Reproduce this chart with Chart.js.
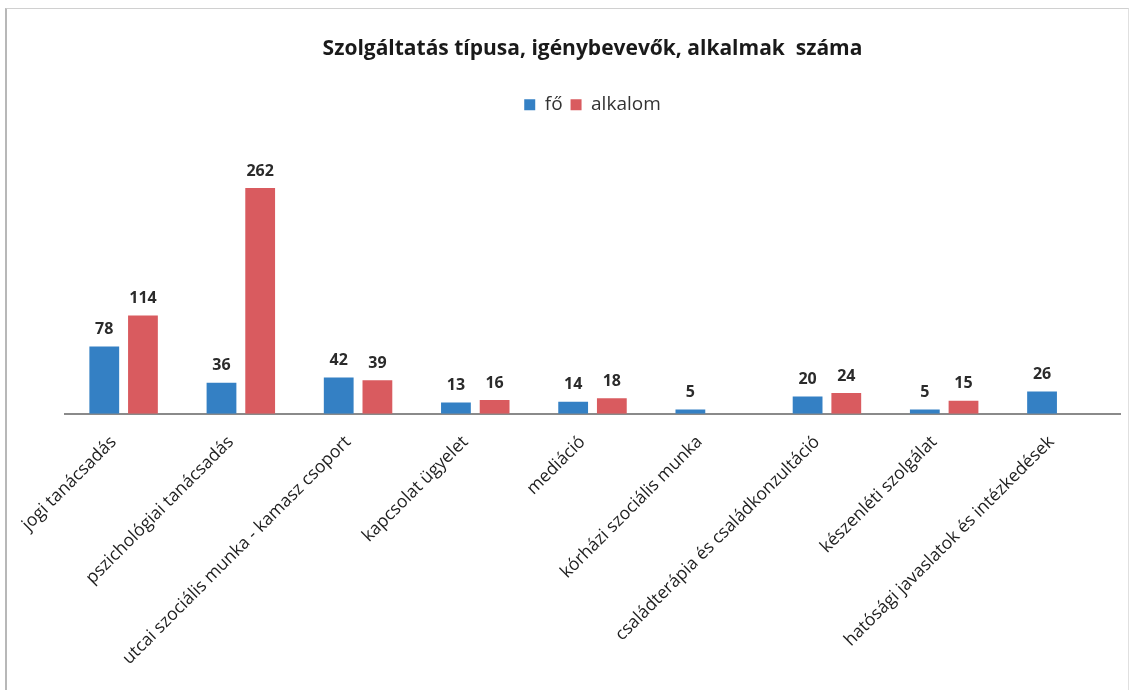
<!DOCTYPE html>
<html>
<head>
<meta charset="utf-8">
<script src="https://cdn.jsdelivr.net/npm/chart.js@4.4.1/dist/chart.umd.min.js"></script>
<style>
  html, body { margin: 0; padding: 0; background: #fff; }
  #wrap { position: relative; width: 1136px; height: 690px; }
  #frame { position: absolute; left: 5px; top: 8px; width: 1124px; height: 700px; border-left: 2px solid #b8b8b8; border-top: 1px solid #d0d0d0; border-right: 1px solid #e0e0e0; box-sizing: border-box; }
  canvas { position: absolute; left: 0; top: 0; }
</style>
</head>
<body>
<div id="wrap">
  <div id="frame"></div>
  <canvas id="c" width="1136" height="690"></canvas>
</div>
<script>
const categories = [
  "jogi tanácsadás",
  "pszichológiai tanácsadás",
  "utcai szociális munka - kamasz csoport",
  "kapcsolat ügyelet",
  "mediáció",
  "kórházi szociális munka",
  "családterápia és családkonzultáció",
  "készenléti szolgálat",
  "hatósági javaslatok és intézkedések"
];
const foValues      = [78, 36, 42, 13, 14, 5, 20, 5, 26];
const alkalomValues = [114, 262, 39, 16, 18, null, 24, 15, null];
const seriesNames = ["fő", "alkalom"];
const chartTitle = "Szolgáltatás típusa, igénybevevők, alkalmak  száma";

const valueLabels = {
  id: 'valueLabels',
  afterDatasetsDraw(chart) {
    const ctx = chart.ctx;
    ctx.save();
    ctx.font = 'bold 16px "Open Sans", sans-serif';
    ctx.fillStyle = '#2b2b2b';
    ctx.textAlign = 'center';
    ctx.textBaseline = 'bottom';
    chart.data.datasets.forEach((ds, i) => {
      const meta = chart.getDatasetMeta(i);
      meta.data.forEach((bar, j) => {
        const v = ds.data[j];
        if (v === null || v === undefined) return;
        ctx.fillText(String(v), bar.x, bar.y - 9);
      });
    });
    ctx.restore();
  }
};

const legendGap = {
  id: 'legendGap',
  beforeInit(chart) {
    const origFit = chart.legend.fit;
    chart.legend.fit = function () {
      origFit.call(this);
      this.height += 31;
    };
  }
};

new Chart(document.getElementById('c'), {
  type: 'bar',
  data: {
    labels: categories,
    datasets: [
      { label: seriesNames[0], data: foValues, backgroundColor: '#3480c4', categoryPercentage: 0.66, barPercentage: 0.77 },
      { label: seriesNames[1], data: alkalomValues, backgroundColor: '#d95b5f', categoryPercentage: 0.66, barPercentage: 0.77 }
    ]
  },
  options: {
    responsive: false,
    animation: false,
    layout: { padding: { left: 65, right: 16, top: 22, bottom: 3 } },
    plugins: {
      title: {
        display: true,
        text: chartTitle,
        color: '#1a1a1a',
        font: { family: '"Open Sans", sans-serif', size: 21, weight: 'bold' },
        padding: { top: 14, bottom: 26 }
      },
      legend: {
        display: true,
        position: 'top',
        labels: {
          boxWidth: 11, boxHeight: 11,
          color: '#333',
          font: { family: '"Open Sans", sans-serif', size: 19 },
          padding: 8
        }
      },
      tooltip: { enabled: false }
    },
    scales: {
      x: {
        grid: { display: false, drawTicks: false },
        border: { display: true, color: '#8a8a8a', width: 2 },
        ticks: {
          color: '#1e1e1e',
          font: { family: '"Open Sans", sans-serif', size: 17.5 },
          minRotation: 45, maxRotation: 45,
          autoSkip: false,
          padding: 18,
          labelOffset: -10
        }
      },
      y: {
        display: false,
        min: 0, max: 300
      }
    }
  },
  plugins: [valueLabels, legendGap]
});
</script>
</body>
</html>
